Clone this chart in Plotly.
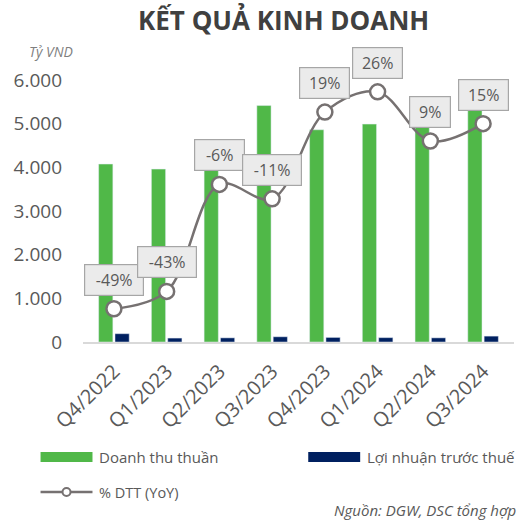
import plotly.graph_objects as go

quarters = ["Q4/2022", "Q1/2023", "Q2/2023", "Q3/2023", "Q4/2023", "Q1/2024", "Q2/2024", "Q3/2024"]
revenue = [4075, 3960, 4600, 5415, 4860, 4990, 5010, 5500]
pretax_profit = [190, 90, 95, 120, 105, 100, 95, 135]
revenue_yoy = [-0.49, -0.43, -0.06, -0.11, 0.19, 0.26, 0.09, 0.15]
yoy_labels = ["-49%", "-43%", "-6%", "-11%", "19%", "26%", "9%", "15%"]
y_ticks = [0, 1000, 2000, 3000, 4000, 5000, 6000]
y_tick_text = ["0", "1.000", "2.000", "3.000", "4.000", "5.000", "6.000"]

W, H = 523, 524
L, R, T, B = 82.5, 9, 80, 182
GREEN = "#50b848"
NAVY = "#002060"
GREY_LINE = "#767171"
TXT = "#595959"
FONT = "Open Sans"


def px_x(x):
    return (x - L) / (W - L - R)


def px_y(y):
    return (H - B - y) / (H - T - B)


fig = go.Figure()
fig.add_trace(go.Bar(x=quarters, y=revenue, name="Doanh thu thuần", marker_color=GREEN))
fig.add_trace(go.Bar(x=quarters, y=pretax_profit, name="Lợi nhuận trước thuế", marker_color=NAVY))
fig.add_trace(go.Scatter(
    x=quarters, y=revenue_yoy, name="% DTT (YoY)", yaxis="y2", mode="lines+markers",
    line=dict(color=GREY_LINE, width=2.5, shape="spline", smoothing=1),
    marker=dict(size=15, color="white", line=dict(color=GREY_LINE, width=2.5)),
    cliponaxis=False,
))

annotations = []
for q, v, t in zip(quarters, revenue_yoy, yoy_labels):
    annotations.append(dict(
        x=q, y=v, xref="x", yref="y2", text=t, showarrow=False, yshift=29,
        yanchor="middle", xanchor="center",
        font=dict(family=FONT, size=16, color=TXT),
        bgcolor="#ebebeb", bordercolor="#a6a6a6", borderwidth=1.2, borderpad=4,
        width=len(t) * 9 + 14,
    ))


def paper_text(x, y, text, size, color=TXT, xanchor="left"):
    return dict(x=px_x(x), y=px_y(y), xref="paper", yref="paper", text=text, showarrow=False,
                xanchor=xanchor, yanchor="middle", font=dict(family=FONT, size=size, color=color))


# title, unit, source
annotations += [
    paper_text(283, 20, "<b>KẾT QUẢ KINH DOANH</b>", 26, "#404040", "center"),
    paper_text(26, 51, "<i>Tỷ VND</i>", 14, "#7f7f7f"),
    paper_text(518, 510, "<i>Nguồn: DGW, DSC tổng hợp</i>", 15, TXT, "right"),
]

# legend drawn by hand to get the wide Excel swatches
shapes = []
legend_rows = [
    ("Doanh thu thuần", GREEN, 40, 457),
    ("Lợi nhuận trước thuế", NAVY, 308, 457),
]
for name, col, x0, yc in legend_rows:
    shapes.append(dict(type="rect", xref="paper", yref="paper", x0=px_x(x0), x1=px_x(x0 + 52),
                       y0=px_y(yc + 5), y1=px_y(yc - 5), fillcolor=col, line=dict(width=0)))
    annotations.append(paper_text(x0 + 57, yc, name, 15))
shapes.append(dict(type="line", xref="paper", yref="paper", x0=px_x(40), x1=px_x(92),
                   y0=px_y(492), y1=px_y(492), line=dict(color=GREY_LINE, width=2.5)))
shapes.append(dict(type="circle", xref="paper", yref="paper", x0=px_x(62), x1=px_x(70),
                   y0=px_y(496), y1=px_y(488), fillcolor="white", line=dict(color=GREY_LINE, width=2)))
annotations.append(paper_text(97, 492, "% DTT (YoY)", 14.5))

fig.update_layout(
    width=W, height=H,
    margin=dict(l=L, r=R, t=T, b=B),
    paper_bgcolor="white", plot_bgcolor="white",
    barmode="group", bargap=0.38, bargroupgap=0.13,
    showlegend=False,
    font=dict(family=FONT, color=TXT),
    xaxis=dict(tickangle=-45, tickfont=dict(size=20, color=TXT), showline=True, linecolor="#d9d9d9",
               linewidth=1.5, ticks="", showgrid=False, ticklabelstandoff=8),
    yaxis=dict(range=[0, 6000], tickvals=y_ticks, ticktext=y_tick_text, tickfont=dict(size=19, color=TXT),
               showgrid=False, zeroline=False, ticks="", ticklabelstandoff=20),
    yaxis2=dict(overlaying="y", range=[-0.605, 0.301], visible=False, showgrid=False),
    annotations=annotations,
    shapes=shapes,
)

# drop the browser's default 8px body margin so the figure sits at the window origin
fig.write_html(
    "out.html",
    config={"displayModeBar": False},
    post_script="document.body.style.margin='0';document.body.style.overflow='hidden';",
)
